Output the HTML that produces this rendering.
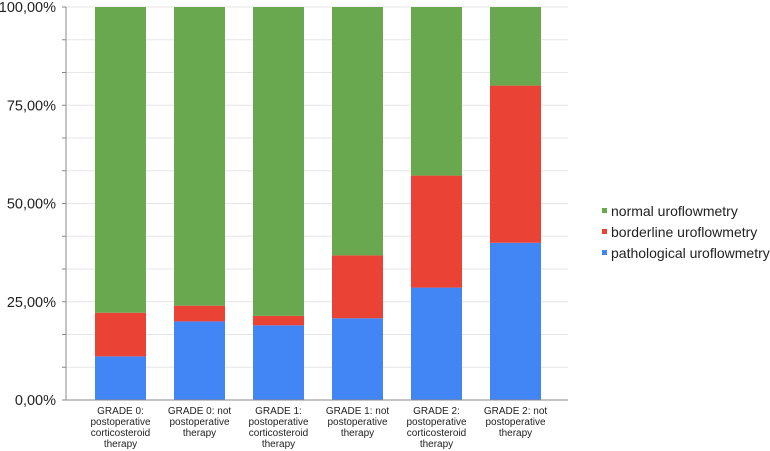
<!DOCTYPE html>
<html><head><meta charset="utf-8"><style>
body{margin:0;background:#fff;font-family:"Liberation Sans",Arial,sans-serif;}
svg{display:block}
</style></head><body>
<svg id="chart" width="770" height="451"></svg>
<script>
const categories=[["GRADE 0:","postoperative","corticosteroid","therapy"],["GRADE 0: not","postoperative","therapy"],["GRADE 1:","postoperative","corticosteroid","therapy"],["GRADE 1: not","postoperative","therapy"],["GRADE 2:","postoperative","corticosteroid","therapy"],["GRADE 2: not","postoperative","therapy"]];
const pathological=[11.1,20.0,19.0,20.8,28.6,40.0];
const borderline=[11.1,4.0,2.4,16.0,28.5,40.0];
const normal=[77.8,76.0,78.6,63.2,42.9,20.0];
const yTicks=[0,25,50,75,100];
const yTickLabels=["0,00%","25,00%","50,00%","75,00%","100,00%"];
const seriesNames=["normal uroflowmetry","borderline uroflowmetry","pathological uroflowmetry"];
const colors={normal:"#6aa84f",borderline:"#ea4335",pathological:"#4285f4"};

const NS="http://www.w3.org/2000/svg";
const svg=document.getElementById("chart");
const L=66,R=568,T=7,B=400,step=79,x0=81,bw=51;
const y=v=>B-(v/100)*(B-T);
const xb=i=>x0+i*step+(step-bw)/2;
function mk(tag,attrs){const e=document.createElementNS(NS,tag);for(const k in attrs)e.setAttribute(k,attrs[k]);svg.appendChild(e);return e;}
for(let k=0;k<=12;k++){const v=k*100/12;
 const g=mk("line",{x1:L,x2:R,y1:y(v),y2:y(v),stroke:"#e6e6e6","stroke-width":1});
 
 
 const t=mk("line",{x1:L-4,x2:L,y1:y(v),y2:y(v),stroke:"#888","stroke-width":1});
 
 
}
yTicks.forEach((v,i)=>{const t=mk("text",{x:L-10,y:y(v)+5,"text-anchor":"end","font-size":14.5,fill:"#222"});t.textContent=yTickLabels[i];
 
 });
categories.forEach((c,i)=>{
 const x=xb(i);let base=0;
 [["pathological",pathological],["borderline",borderline],["normal",normal]].forEach(([n,arr])=>{
  const v=arr[i];const r=mk("rect",{x:x,y:y(base+v),width:bw,height:y(base)-y(base+v),fill:colors[n]});
  
  
  base+=v;});
 const t=mk("text",{x:x+bw/2,y:414,"text-anchor":"middle","font-size":10,fill:"#222"});
 
 
 c.forEach((line,j)=>{const s=document.createElementNS(NS,"tspan");s.setAttribute("x",x+bw/2);s.setAttribute("dy",j?11:0);s.textContent=line;t.appendChild(s);});
});
const ax=mk("line",{x1:L,x2:L,y1:T,y2:B,stroke:"#888","stroke-width":1});


const bx=mk("line",{x1:L,x2:R,y1:B,y2:B,stroke:"#888","stroke-width":1});


seriesNames.forEach((n,i)=>{const key=["normal","borderline","pathological"][i];const yy=216+i*21;
 const r=mk("rect",{x:602,y:yy-8,width:5,height:5,fill:colors[key]});
 
 
 const t=mk("text",{x:611,y:yy,"font-size":14,fill:"#222"});t.textContent=n;
 
 });
</script>
</body></html>
